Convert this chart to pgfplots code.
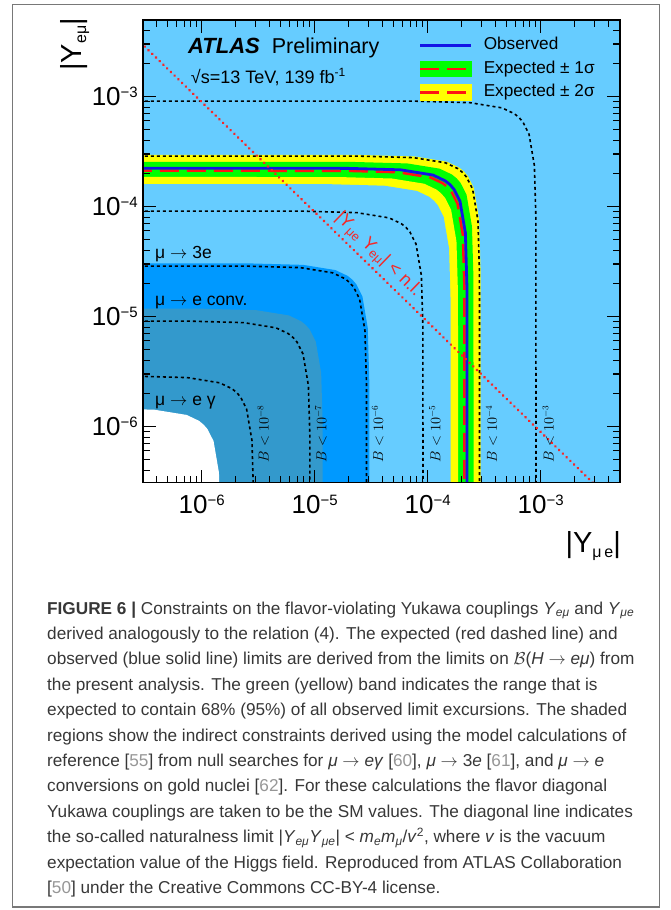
\documentclass[border=0pt]{standalone}
\usepackage{fontspec}
\setmainfont{Liberation Sans}
\usepackage{pgfplots}
\pgfplotsset{compat=1.18}
\definecolor{lb}{RGB}{102,204,255}
\definecolor{mb}{RGB}{0,153,255}
\definecolor{sb}{RGB}{51,153,204}
\definecolor{obs}{RGB}{20,20,230}
\definecolor{expc}{RGB}{255,20,20}
\definecolor{nat}{RGB}{245,40,40}
\definecolor{captxt}{RGB}{55,55,55}
\definecolor{refnum}{RGB}{150,150,150}
\definecolor{framec}{RGB}{120,120,120}
\definecolor{gr}{RGB}{0,255,0}
\definecolor{ye}{RGB}{255,255,0}
\newcommand{\tl}[1]{10\smash{\raisebox{8pt}{\fontsize{15}{15}\selectfont −#1}}}
\newcommand{\sub}[1]{\textsubscript{#1}}
\newcommand{\rn}[1]{\textcolor{refnum}{#1}}
\newcommand{\ra}{$\rightarrow$}
\begin{document}
\begin{tikzpicture}
\path[use as bounding box] (0pt,0pt) rectangle (670pt,-910pt);
\draw[framec, line width=1.3pt] (12.5pt,-4.5pt) rectangle (659.5pt,-907pt);
\begin{axis}[
  at={(143pt,-482.7pt)}, anchor=south west,
  scale only axis, width=477pt, height=462.7pt,
  xmode=log, ymode=log,
  xmin=3.02e-7, xmax=5.03e-3, ymin=3.08e-7, ymax=4.96e-3,
  axis background/.style={fill=lb},
  axis on top,
  xtick={1e-6,1e-5,1e-4,1e-3}, xticklabels={\tl{6},\tl{5},\tl{4},\tl{3}},
  ytick={1e-6,1e-5,1e-4,1e-3}, yticklabels={\tl{6},\tl{5},\tl{4},\tl{3}},
  minor xtick={4e-7,5e-7,6e-7,7e-7,8e-7,9e-7,2e-6,3e-6,4e-6,5e-6,6e-6,7e-6,8e-6,9e-6,2e-5,3e-5,4e-5,5e-5,6e-5,7e-5,8e-5,9e-5,2e-4,3e-4,4e-4,5e-4,6e-4,7e-4,8e-4,9e-4,2e-3,3e-3,4e-3},
  minor ytick={4e-7,5e-7,6e-7,7e-7,8e-7,9e-7,2e-6,3e-6,4e-6,5e-6,6e-6,7e-6,8e-6,9e-6,2e-5,3e-5,4e-5,5e-5,6e-5,7e-5,8e-5,9e-5,2e-4,3e-4,4e-4,5e-4,6e-4,7e-4,8e-4,9e-4,2e-3,3e-3,4e-3},
  major tick length=13pt, minor tick length=7pt,
  every tick/.style={black, line width=1.1pt},
  axis line style={line width=1.4pt},
  tick label style={font=\fontsize{26}{26}\selectfont, inner sep=0pt},
  xticklabel shift=12pt, yticklabel shift=5pt,
  legend style={at={(rel axis cs:0.5786,0.963)}, anchor=north west, draw=none, fill=none,
    inner sep=0pt, outer sep=0pt, row sep=7pt, column sep=11pt,
    font=\fontsize{17.2}{17.2}\selectfont,
    nodes={inner sep=0pt, text depth=4pt, text height=12.5pt}},
  legend cell align=left,
]
% bands
\addplot[fill=ye, draw=none, forget plot] coordinates {(1e-9,2.95e-4) (0.2572e-4,2.939e-4) (0.7635e-4,2.849e-4) (1.475e-4,2.555e-4) (1.896e-4,2.260e-4) (2.086e-4,2.086e-4) (2.260e-4,1.896e-4) (2.555e-4,1.475e-4) (2.849e-4,0.7635e-4) (2.939e-4,0.2572e-4) (2.95e-4,1e-9) (1e-9,1e-9)};
\addplot[fill=gr, draw=none, forget plot] coordinates {(1e-9,2.55e-4) (0.2224e-4,2.540e-4) (0.6599e-4,2.463e-4) (1.275e-4,2.208e-4) (1.639e-4,1.953e-4) (1.803e-4,1.803e-4) (1.953e-4,1.639e-4) (2.208e-4,1.275e-4) (2.463e-4,0.6599e-4) (2.540e-4,0.2224e-4) (2.55e-4,1e-9) (1e-9,1e-9)};
\addplot[fill=ye, draw=none, forget plot] coordinates {(1e-9,1.86e-4) (0.1622e-4,1.853e-4) (0.4814e-4,1.797e-4) (0.93e-4,1.611e-4) (1.196e-4,1.425e-4) (1.315e-4,1.315e-4) (1.425e-4,1.196e-4) (1.611e-4,0.93e-4) (1.797e-4,0.4814e-4) (1.853e-4,0.1622e-4) (1.86e-4,1e-9) (1e-9,1e-9)};
\addplot[fill=lb, draw=none, forget plot] coordinates {(1e-9,1.6e-4) (0.1395e-4,1.594e-4) (0.4141e-4,1.545e-4) (0.8e-4,1.386e-4) (1.0285e-4,1.226e-4) (1.131e-4,1.131e-4) (1.226e-4,1.0285e-4) (1.386e-4,0.8e-4) (1.545e-4,0.4141e-4) (1.594e-4,0.1395e-4) (1.6e-4,1e-9) (1e-9,1e-9)};
% indirect constraints
\addplot[fill=mb, draw=none, forget plot] coordinates {(1e-9,3.05e-5) (0.266e-5,3.038e-5) (0.7893e-5,2.946e-5) (1.525e-5,2.641e-5) (1.961e-5,2.336e-5) (2.157e-5,2.157e-5) (2.336e-5,1.961e-5) (2.641e-5,1.525e-5) (2.946e-5,0.7893e-5) (3.038e-5,0.266e-5) (3.05e-5,1e-9) (1e-9,1e-9)};
\addplot[fill=sb, draw=none, forget plot] coordinates {(1e-9,1.18e-5) (0.1029e-5,1.176e-5) (0.3054e-5,1.14e-5) (0.59e-5,1.022e-5) (0.7585e-5,0.9039e-5) (0.8344e-5,0.8344e-5) (0.9039e-5,0.7585e-5) (1.022e-5,0.59e-5) (1.14e-5,0.3054e-5) (1.176e-5,0.1029e-5) (1.18e-5,1e-9) (1e-9,1e-9)};
\addplot[fill=white, draw=none, forget plot] coordinates {(1e-9,1.47e-6) (0.1282e-6,1.464e-6) (0.3804e-6,1.42e-6) (0.735e-6,1.273e-6) (0.9449e-6,1.126e-6) (1.039e-6,1.039e-6) (1.126e-6,0.9449e-6) (1.273e-6,0.735e-6) (1.42e-6,0.3804e-6) (1.464e-6,0.1282e-6) (1.47e-6,1e-9) (1e-9,1e-9)};
% branching-ratio contours
\pgfplotsset{ctr/.style={black, line width=1.6pt, dash pattern=on 3pt off 3pt, forget plot}}
\addplot[ctr] coordinates {(1e-9,9.1e-4) (0.7935e-4,9.065e-4) (2.355e-4,8.79e-4) (4.55e-4,7.881e-4) (5.85e-4,6.971e-4) (6.435e-4,6.435e-4) (6.971e-4,5.85e-4) (7.881e-4,4.55e-4) (8.79e-4,2.355e-4) (9.065e-4,0.7935e-4) (9.1e-4,1e-9)};
\addplot[ctr] coordinates {(1e-9,2.88e-4) (0.2511e-4,2.869e-4) (0.7453e-4,2.782e-4) (1.44e-4,2.494e-4) (1.851e-4,2.206e-4) (2.036e-4,2.036e-4) (2.206e-4,1.851e-4) (2.494e-4,1.44e-4) (2.782e-4,0.7453e-4) (2.869e-4,0.2511e-4) (2.88e-4,1e-9)};
\addplot[ctr] coordinates {(1e-9,9.1e-5) (0.7935e-5,9.065e-5) (2.355e-5,8.79e-5) (4.55e-5,7.881e-5) (5.85e-5,6.971e-5) (6.435e-5,6.435e-5) (6.971e-5,5.85e-5) (7.881e-5,4.55e-5) (8.79e-5,2.355e-5) (9.065e-5,0.7935e-5) (9.1e-5,1e-9)};
\addplot[ctr] coordinates {(1e-9,2.88e-5) (0.2511e-5,2.869e-5) (0.7453e-5,2.782e-5) (1.44e-5,2.494e-5) (1.851e-5,2.206e-5) (2.036e-5,2.036e-5) (2.206e-5,1.851e-5) (2.494e-5,1.44e-5) (2.782e-5,0.7453e-5) (2.869e-5,0.2511e-5) (2.88e-5,1e-9)};
\addplot[ctr] coordinates {(1e-9,9.1e-6) (0.7935e-6,9.065e-6) (2.355e-6,8.79e-6) (4.55e-6,7.881e-6) (5.85e-6,6.971e-6) (6.435e-6,6.435e-6) (6.971e-6,5.85e-6) (7.881e-6,4.55e-6) (8.79e-6,2.355e-6) (9.065e-6,0.7935e-6) (9.1e-6,1e-9)};
\addplot[ctr] coordinates {(1e-9,2.88e-6) (0.2511e-6,2.869e-6) (0.7453e-6,2.782e-6) (1.44e-6,2.494e-6) (1.851e-6,2.206e-6) (2.036e-6,2.036e-6) (2.206e-6,1.851e-6) (2.494e-6,1.44e-6) (2.782e-6,0.7453e-6) (2.869e-6,0.2511e-6) (2.88e-6,1e-9)};
% expected and observed
\addplot[expc, line width=2.5pt, dash pattern=on 19pt off 8pt, forget plot] coordinates {(1e-9,2.12e-4) (0.1849e-4,2.112e-4) (0.5487e-4,2.048e-4) (1.06e-4,1.836e-4) (1.363e-4,1.624e-4) (1.499e-4,1.499e-4) (1.624e-4,1.363e-4) (1.836e-4,1.06e-4) (2.048e-4,0.5487e-4) (2.112e-4,0.1849e-4) (2.12e-4,1e-9)};
\addplot[obs, line width=2.8pt, forget plot] coordinates {(1e-9,2.23e-4) (0.1945e-4,2.222e-4) (0.5771e-4,2.154e-4) (1.115e-4,1.931e-4) (1.433e-4,1.708e-4) (1.577e-4,1.577e-4) (1.708e-4,1.433e-4) (1.931e-4,1.115e-4) (2.154e-4,0.5771e-4) (2.222e-4,0.1945e-4) (2.23e-4,1e-9)};
% naturalness limit
\addplot[nat, line width=3pt, line cap=round, dash pattern=on 0.01pt off 5.2pt, forget plot] coordinates {(1e-7,8.9e-3) (8.9e-3,1e-7)};
% legend
\addlegendimage{legend image code/.code={\draw[obs, line width=2.8pt] (0pt,0pt) -- (51pt,0pt);}}
\addlegendentry{Observed}
\addlegendimage{legend image code/.code={\fill[gr] (0pt,-7.5pt) rectangle (51pt,7.5pt); \draw[expc, line width=2.5pt, dash pattern=on 19pt off 8pt] (0pt,0pt) -- (51pt,0pt);}}
\addlegendentry{Expected ± 1σ}
\addlegendimage{legend image code/.code={\fill[ye] (0pt,-8pt) rectangle (51pt,8pt); \draw[expc, line width=2.5pt, dash pattern=on 19pt off 8pt] (0pt,0pt) -- (51pt,0pt);}}
\addlegendentry{Expected ± 2σ}
% texts
\node[anchor=base west, inner sep=0pt, font=\fontsize{22}{22}\selectfont\bfseries\itshape] at (rel axis cs:0.0943,0.9287) {ATLAS};
\node[anchor=base west, inner sep=0pt, font=\fontsize{21.5}{21.5}\selectfont] at (rel axis cs:0.2698,0.9287) {Preliminary};
\node[anchor=base west, inner sep=0pt, font=\fontsize{18}{18}\selectfont] at (rel axis cs:0.1,0.8632) {√s=13 TeV, 139 fb\raisebox{7pt}{\fontsize{12}{12}\selectfont -1}};
\node[anchor=base west, inner sep=0pt, font=\fontsize{17.5}{17.5}\selectfont] at (rel axis cs:0.0252,0.4856) {μ \ra{} 3e};
\node[anchor=base west, inner sep=0pt, font=\fontsize{17.5}{17.5}\selectfont] at (rel axis cs:0.0252,0.3840) {μ \ra{} e conv.};
\node[anchor=base west, inner sep=0pt, font=\fontsize{17.5}{17.5}\selectfont] at (rel axis cs:0.0252,0.1679) {μ \ra{} e γ};
\node[rotate=90, inner sep=0pt, font=\fontsize{13.5}{13.5}\selectfont] at (axis cs:3.51e-6,8.55e-7) {$B<10^{-8}$};
\node[rotate=90, inner sep=0pt, font=\fontsize{13.5}{13.5}\selectfont] at (axis cs:1.135e-5,8.55e-7) {$B<10^{-7}$};
\node[rotate=90, inner sep=0pt, font=\fontsize{13.5}{13.5}\selectfont] at (axis cs:3.62e-5,8.55e-7) {$B<10^{-6}$};
\node[rotate=90, inner sep=0pt, font=\fontsize{13.5}{13.5}\selectfont] at (axis cs:1.159e-4,8.55e-7) {$B<10^{-5}$};
\node[rotate=90, inner sep=0pt, font=\fontsize{13.5}{13.5}\selectfont] at (axis cs:3.68e-4,8.55e-7) {$B<10^{-4}$};
\node[rotate=90, inner sep=0pt, font=\fontsize{13.5}{13.5}\selectfont] at (axis cs:1.168e-3,8.55e-7) {$B<10^{-3}$};
\node[rotate=-44.2, inner sep=0pt, text=nat, font=\fontsize{18}{18}\selectfont] at (axis cs:3.63e-5,3.62e-5) {|Y\sub{μe} Y\sub{eμ}| < n.l.};
\end{axis}
% axis titles
\node[rotate=90, anchor=base east, inner sep=0pt, font=\fontsize{29}{29}\selectfont] at (81pt,-18pt) {|Y\raisebox{-5pt}{\fontsize{16}{16}\selectfont eμ}|};
\node[anchor=base east, inner sep=0pt, font=\fontsize{29}{29}\selectfont] at (621pt,-552pt) {|Y\raisebox{-5pt}{\fontsize{16}{16}\selectfont μ\,e}|};
% caption
\begin{scope}[every node/.style={anchor=base west, inner sep=0pt, text=captxt, font=\fontsize{17.2}{20}\selectfont}]
\node at (47pt,-614pt) {\textbf{FIGURE 6 |} Constraints on the flavor-violating Yukawa couplings \textit{Y}\sub{\textit{eμ}} and \textit{Y}\sub{\textit{μe}}};
\node at (47pt,-639.4pt) {derived analogously to the relation (4). The expected (red dashed line) and};
\node at (47pt,-664.8pt) {observed (blue solid line) limits are derived from the limits on $\mathcal{B}$(\textit{H} \ra{} \textit{eμ}) from};
\node at (47pt,-690.2pt) {the present analysis. The green (yellow) band indicates the range that is};
\node at (47pt,-715.6pt) {expected to contain 68\% (95\%) of all observed limit excursions. The shaded};
\node at (47pt,-741pt) {regions show the indirect constraints derived using the model calculations of};
\node at (47pt,-766.4pt) {reference [\rn{55}] from null searches for \textit{μ} \ra{} \textit{eγ} [\rn{60}], \textit{μ} \ra{} 3\textit{e} [\rn{61}], and \textit{μ} \ra{} \textit{e}};
\node at (47pt,-791.8pt) {conversions on gold nuclei [\rn{62}]. For these calculations the flavor diagonal};
\node at (47pt,-817.2pt) {Yukawa couplings are taken to be the SM values. The diagonal line indicates};
\node at (47pt,-842.6pt) {the so-called naturalness limit |\textit{Y}\sub{\textit{eμ}}\textit{Y}\sub{\textit{μe}}| < \textit{m}\sub{\textit{e}}\textit{m}\sub{\textit{μ}}/\textit{v}\textsuperscript{2}, where \textit{v} is the vacuum};
\node at (47pt,-868pt) {expectation value of the Higgs field. Reproduced from ATLAS Collaboration};
\node at (47pt,-893.4pt) {[\rn{50}] under the Creative Commons CC-BY-4 license.};
\end{scope}
\end{tikzpicture}
\end{document}
